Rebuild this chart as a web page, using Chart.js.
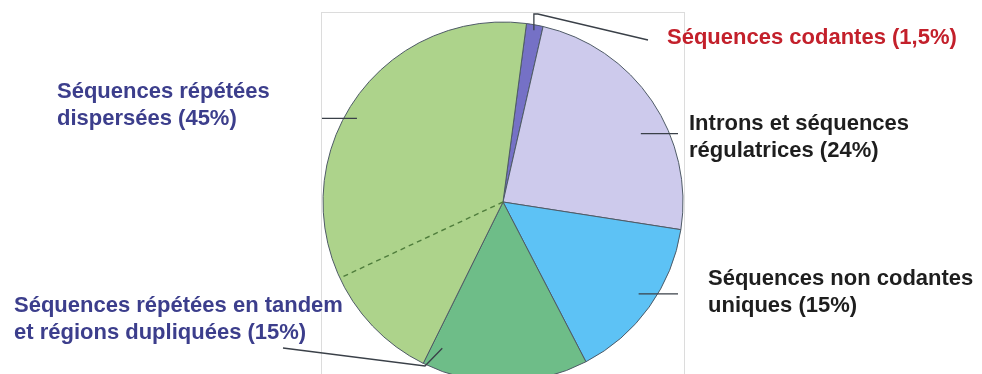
<!DOCTYPE html>
<html>
<head>
<meta charset="utf-8">
<script src="https://cdn.jsdelivr.net/npm/chart.js@4"></script>
<style>
  html, body { margin: 0; padding: 0; background: #fff; overflow: hidden; }
</style>
</head>
<body>
<canvas id="genomeChart" width="982" height="374"></canvas>
<script>
// ------------------------------
// Data (clockwise from the top)
// ------------------------------
const categories = [
    'Séquences codantes',
    'Introns et séquences régulatrices',
    'Séquences non codantes uniques',
    'Séquences répétées en tandem et régions dupliquées',
    'Séquences répétées dispersées'
];
const percents = [1.5, 24, 15, 15, 45];
const labelLines = [
    ['Séquences codantes (1,5%)'],
    ['Introns et séquences', 'régulatrices (24%)'],
    ['Séquences non codantes', 'uniques (15%)'],
    ['Séquences répétées en tandem', 'et régions dupliquées (15%)'],
    ['Séquences répétées', 'dispersées (45%)']
];
const sliceColors = ['#7571c6', '#cdcaec', '#5dc2f5', '#6ebd88', '#add38b'];
const textColors = ['#c3202b', '#1e1e1e', '#1e1e1e', '#3c3e8c', '#3c3e8c'];

// label placement: text anchor (left, first baseline), leader anchor inside slice
// (fraction of the slice angle, fraction of radius), then extra leader points
const labelStyle = [
    { x: 667, y: 44, at: [0.5, 0.97], path: 'codantes' },
    { x: 689, y: 130, at: [0.59, 0.855], path: [[678, null]] },
    { x: 708, y: 285, at: [0.47, 0.91], path: [[678, null]] },
    { x: 14, y: 312, at: [0.93, 0.88], path: [[425, 366], [283, 348]] },
    { x: 57, y: 98, at: [0.58, 0.935], path: [[322, null]] }
];
const dashedSplit = 0.24; // dashed divider inside the 45% slice

// ------------------------------
// Plugin: frame, dashed divider, labels and leader lines
// ------------------------------
const annotate = {
    id: 'annotate',
    beforeDatasetsDraw(chart) {
        const ctx = chart.ctx;
        const arc = chart.getDatasetMeta(0).data[0];
        const { x, y, outerRadius: r } = arc.getProps(['x', 'y', 'outerRadius'], true);
        ctx.save();
        ctx.strokeStyle = '#dcdcdc';
        ctx.lineWidth = 1;
        ctx.strokeRect(Math.round(x - r) - 1.5, Math.round(y - r) - 9.5, 2 * r + 3, 400);
        ctx.restore();
    },
    afterDatasetsDraw(chart) {
        const ctx = chart.ctx;
        const arcs = chart.getDatasetMeta(0).data;

        // dashed divider in the big slice
        const big = arcs[4].getProps(['x', 'y', 'startAngle', 'endAngle', 'outerRadius'], true);
        const a = big.startAngle + (big.endAngle - big.startAngle) * dashedSplit;
        ctx.save();
        ctx.strokeStyle = '#4f7d3c';
        ctx.lineWidth = 1.4;
        ctx.setLineDash([5, 4]);
        ctx.beginPath();
        ctx.moveTo(big.x, big.y);
        ctx.lineTo(big.x + Math.cos(a) * big.outerRadius, big.y + Math.sin(a) * big.outerRadius);
        ctx.stroke();
        ctx.restore();

        // leader lines
        arcs.forEach((el, i) => {
            const p = el.getProps(['x', 'y', 'startAngle', 'endAngle', 'outerRadius'], true);
            const st = labelStyle[i];
            const ang = p.startAngle + (p.endAngle - p.startAngle) * st.at[0];
            const ax = p.x + Math.cos(ang) * p.outerRadius * st.at[1];
            const ay = p.y + Math.sin(ang) * p.outerRadius * st.at[1];
            ctx.save();
            ctx.strokeStyle = '#3a4048';
            ctx.lineWidth = 1.3;
            ctx.beginPath();
            ctx.moveTo(ax, ay);
            if (st.path === 'codantes') {
                const topY = p.y - p.outerRadius - 8;
                ctx.lineTo(ax, topY);
                ctx.lineTo(ax + 4, topY);
                ctx.lineTo(st.x - 19, st.y - 4);
            } else {
                st.path.forEach(([px, py]) => ctx.lineTo(px, py === null ? ay : py));
            }
            ctx.stroke();
            ctx.restore();
        });

        // text labels
        ctx.save();
        ctx.font = 'bold 22px "Liberation Sans", Arial, sans-serif';
        ctx.textBaseline = 'alphabetic';
        ctx.textAlign = 'left';
        labelLines.forEach((lines, i) => {
            ctx.fillStyle = textColors[i];
            lines.forEach((t, k) => ctx.fillText(t, labelStyle[i].x, labelStyle[i].y + k * 26.5));
        });
        ctx.restore();
    }
};

new Chart(document.getElementById('genomeChart').getContext('2d'), {
    type: 'pie',
    data: {
        labels: categories,
        datasets: [{
            data: percents,
            backgroundColor: sliceColors,
            borderColor: '#4e5a66',
            borderWidth: 1,
            radius: 180,
            clip: false
        }]
    },
    options: {
        responsive: false,
        animation: false,
        rotation: 7.5,
        layout: { padding: { left: 323, right: 299, top: 30, bottom: 0 } },
        plugins: {
            legend: { display: false },
            tooltip: { enabled: false }
        }
    },
    plugins: [annotate]
});
</script>
</body>
</html>
